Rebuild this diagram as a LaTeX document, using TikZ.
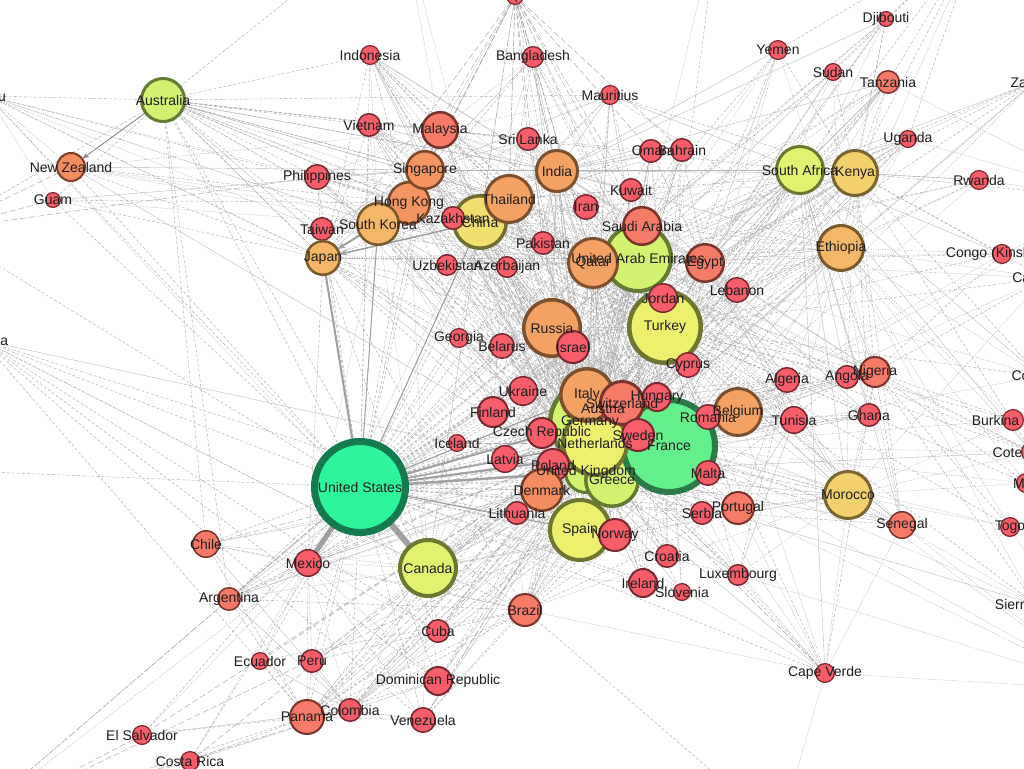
\documentclass[tikz,border=0pt]{standalone}
\usepackage{fontspec}
\setmainfont{Liberation Sans}
\usetikzlibrary{arrows.meta}
\pgfdeclarelayer{back}
\pgfdeclarelayer{edges}
\pgfsetlayers{back,edges,main}
\definecolor{fR}{RGB}{247,94,106}\definecolor{bR}{RGB}{122,40,48}
\definecolor{fS}{RGB}{245,122,104}\definecolor{bS}{RGB}{122,52,44}
\definecolor{fS2}{RGB}{243,140,96}\definecolor{bS2}{RGB}{122,62,40}
\definecolor{fO}{RGB}{244,162,100}\definecolor{bO}{RGB}{125,80,45}
\definecolor{fO2}{RGB}{244,148,96}\definecolor{bO2}{RGB}{125,72,42}
\definecolor{fLO}{RGB}{245,182,104}\definecolor{bLO}{RGB}{122,90,45}
\definecolor{fYO}{RGB}{242,208,108}\definecolor{bYO}{RGB}{122,100,50}
\definecolor{fY}{RGB}{240,222,110}\definecolor{bY}{RGB}{115,110,48}
\definecolor{fY2}{RGB}{236,240,108}\definecolor{bY2}{RGB}{110,118,48}
\definecolor{fYG}{RGB}{226,242,112}\definecolor{bYG}{RGB}{106,120,50}
\definecolor{fLG}{RGB}{210,242,112}\definecolor{bLG}{RGB}{100,122,50}
\definecolor{fG}{RGB}{100,240,140}\definecolor{bG}{RGB}{44,122,72}
\definecolor{fT}{RGB}{46,245,155}\definecolor{bT}{RGB}{22,122,80}
\definecolor{ecol}{RGB}{168,168,168}
\definecolor{hcol}{RGB}{160,160,160}
\definecolor{txt}{RGB}{30,30,30}
\newcommand\cnd[6]{\node[#5, minimum size=#4*2pt-#6, line width=#6] (#1) at (#2,#3) {};}
\begin{document}
\begin{tikzpicture}[x=1pt,y=-1pt,
  nd/.style={circle,inner sep=0pt,outer sep=0pt},
  cR/.style={nd,fill=fR,draw=bR}, cS/.style={nd,fill=fS,draw=bS},
  cS2/.style={nd,fill=fS2,draw=bS2}, cO/.style={nd,fill=fO,draw=bO},
  cO2/.style={nd,fill=fO2,draw=bO2}, cLO/.style={nd,fill=fLO,draw=bLO},
  cYO/.style={nd,fill=fYO,draw=bYO}, cY/.style={nd,fill=fY,draw=bY},
  cY2/.style={nd,fill=fY2,draw=bY2}, cYG/.style={nd,fill=fYG,draw=bYG},
  cLG/.style={nd,fill=fLG,draw=bLG}, cG/.style={nd,fill=fG,draw=bG},
  cT/.style={nd,fill=fT,draw=bT},
  lbl/.style={font=\fontsize{14}{16}\selectfont, text=txt, inner sep=0pt},
  ea/.style={draw=ecol, line width=0.4pt, dash pattern=on 3pt off 2pt},
  eb/.style={draw=ecol, line width=0.35pt, dash pattern=on 1.2pt off 1.2pt},
  ec/.style={draw=ecol!85, line width=0.35pt},
  ed/.style={draw=ecol, line width=0.45pt, dash pattern=on 6pt off 3pt},
  heavy/.style={draw=hcol, line width=#1}]
\begin{pgfonlayer}{back}
\fill[white] (0,0) rectangle (1024,768);
\end{pgfonlayer}
\useasboundingbox (0,0) rectangle (1024,768);
% off-canvas coordinates
\coordinate (oT1) at (400,-90);
\coordinate (oT2) at (720,-90);
\coordinate (oT3) at (980,-70);
\coordinate (oR1) at (1120,200);
\coordinate (oR2) at (1110,690);
\coordinate (oB1) at (780,830);
\coordinate (oBL) at (-40,830);
\coordinate (oL1) at (-60,230);
\coordinate (oL2) at (-60,470);
% nodes
\cnd{npl}{515}{-4}{9}{cR}{1.2pt}
\cnd{idn}{370}{55}{10}{cR}{1.2pt}
\cnd{bgd}{533}{57}{11}{cR}{1.2pt}
\cnd{mus}{610}{95}{10}{cR}{1.2pt}
\cnd{dji}{886}{19}{8}{cR}{1.2pt}
\cnd{yem}{778}{50}{10}{cR}{1.2pt}
\cnd{sdn}{833}{72}{9}{cR}{1.2pt}
\cnd{tza}{888}{82}{12}{cS}{1.5pt}
\cnd{uga}{908}{139}{9}{cR}{1.2pt}
\cnd{rwa}{979}{180}{10}{cR}{1.2pt}
\cnd{zmb}{1034}{82}{8}{cR}{1.2pt}
\cnd{cod}{1002}{254}{10}{cR}{1.2pt}
\cnd{cmr}{1045}{278}{8}{cR}{1.2pt}
\cnd{com}{1040}{376}{8}{cR}{1.2pt}
\cnd{bfa}{1013}{420}{11}{cR}{1.2pt}
\cnd{civ}{1032}{452}{11}{cR}{1.2pt}
\cnd{mli}{1026}{483}{10}{cR}{1.2pt}
\cnd{tgo}{1010}{527}{10}{cR}{1.2pt}
\cnd{sle}{1035}{604}{8}{cR}{1.2pt}
\cnd{pal}{-12}{96}{8}{cR}{1.2pt}
\cnd{jam}{-18}{340}{8}{cR}{1.2pt}
\cnd{aus}{163}{100}{23}{cLG}{3pt}
\cnd{nzl}{71}{167}{15}{cS2}{2pt}
\cnd{gum}{53}{200}{8}{cR}{1.2pt}
\cnd{phl}{317}{177}{13}{cR}{1.5pt}
\cnd{twn}{322}{229}{12}{cR}{1.5pt}
\cnd{jpn}{323}{258}{18}{cLO}{2.5pt}
\cnd{vnm}{369}{125}{12}{cR}{1.5pt}
\cnd{mys}{440}{130}{19}{cS}{2.5pt}
\cnd{hkg}{409}{203}{22}{cO2}{2.5pt}
\cnd{sgp}{425}{170}{20}{cO2}{2.5pt}
\cnd{kor}{378}{224}{22}{cLO}{2.5pt}
\cnd{chn}{480}{222}{28}{cY}{3.5pt}
\cnd{tha}{509}{199}{25}{cO}{3pt}
\cnd{kaz}{453}{218}{12}{cR}{1.5pt}
\cnd{ind}{557}{171}{22}{cO}{3pt}
\cnd{lka}{528}{139}{12}{cR}{1.5pt}
\cnd{omn}{651}{151}{12}{cR}{1.5pt}
\cnd{bhr}{682}{150}{12}{cR}{1.5pt}
\cnd{kwt}{631}{190}{12}{cR}{1.5pt}
\cnd{irn}{586}{207}{13}{cR}{1.5pt}
\cnd{pak}{543}{243}{12}{cR}{1.5pt}
\cnd{uzb}{447}{265}{11}{cR}{1.5pt}
\cnd{aze}{507}{267}{11}{cR}{1.5pt}
\cnd{uae}{638}{258}{35}{cLG}{4pt}
\cnd{sau}{642}{226}{20}{cS}{2.5pt}
\cnd{qat}{593}{263}{26}{cO}{3pt}
\cnd{egy}{705}{263}{20}{cS}{2.5pt}
\cnd{leb}{737}{290}{13}{cR}{1.5pt}
\cnd{tur}{665}{327}{38}{cY2}{4.5pt}
\cnd{jor}{663}{298}{15}{cR}{1.5pt}
\cnd{rus}{552}{328}{30}{cO}{3.5pt}
\cnd{isr}{573}{347}{17}{cR}{2pt}
\cnd{geo}{459}{338}{10}{cR}{1.2pt}
\cnd{blr}{502}{346}{13}{cR}{1.5pt}
\cnd{ukr}{523}{391}{15}{cR}{1.5pt}
\cnd{fin}{493}{412}{16}{cR}{2pt}
\cnd{isl}{457}{443}{9}{cR}{1.2pt}
\cnd{ger}{590}{422}{42}{cLG}{4.5pt}
\cnd{gbr}{586}{472}{22}{cLG}{3pt}
\cnd{grc}{612}{480}{28}{cLG}{3.5pt}
\cnd{fra}{669}{446}{49}{cG}{6pt}
\cnd{ned}{595}{443}{34}{cY2}{4pt}
\cnd{aut}{603}{408}{14}{cS}{2pt}
\cnd{ita}{587}{395}{28}{cO}{3.5pt}
\cnd{swi}{622}{403}{23}{cS}{3pt}
\cnd{hun}{657}{397}{15}{cR}{2pt}
\cnd{cyp}{688}{365}{13}{cR}{1.5pt}
\cnd{swe}{638}{435}{17}{cR}{2pt}
\cnd{bel}{738}{412}{25}{cO}{3pt}
\cnd{rou}{708}{417}{13}{cR}{1.5pt}
\cnd{mlt}{708}{473}{13}{cR}{1.5pt}
\cnd{prt}{738}{508}{17}{cS}{2pt}
\cnd{srb}{702}{513}{12}{cR}{1.5pt}
\cnd{cze}{542}{433}{16}{cR}{2pt}
\cnd{lva}{505}{459}{14}{cR}{1.5pt}
\cnd{pol}{553}{465}{17}{cR}{2pt}
\cnd{den}{542}{490}{22}{cS2}{2.5pt}
\cnd{ltu}{517}{513}{12}{cR}{1.5pt}
\cnd{esp}{580}{530}{32}{cY2}{4pt}
\cnd{nor}{615}{535}{17}{cR}{2pt}
\cnd{hrv}{667}{556}{12}{cR}{1.5pt}
\cnd{irl}{643}{583}{15}{cR}{2pt}
\cnd{svn}{682}{592}{9}{cR}{1.2pt}
\cnd{lux}{738}{575}{11}{cR}{1.5pt}
\cnd{cpv}{825}{673}{10}{cR}{1.2pt}
\cnd{sen}{902}{525}{14}{cS}{1.5pt}
\cnd{mar}{848}{495}{25}{cYO}{3pt}
\cnd{dza}{787}{380}{13}{cR}{1.5pt}
\cnd{tun}{794}{420}{14}{cR}{1.5pt}
\cnd{ago}{847}{377}{12}{cR}{1.5pt}
\cnd{nga}{875}{372}{16}{cS}{2pt}
\cnd{gha}{869}{415}{12}{cR}{1.5pt}
\cnd{rsa}{800}{170}{25}{cYG}{3pt}
\cnd{ken}{855}{173}{24}{cYO}{3pt}
\cnd{eth}{841}{248}{24}{cLO}{3pt}
\cnd{usa}{360}{487}{49}{cT}{7pt}
\cnd{can}{428}{568}{30}{cYG}{4pt}
\cnd{mex}{308}{563}{14}{cR}{1.5pt}
\cnd{chi}{206}{544}{14}{cS}{1.5pt}
\cnd{arg}{229}{599}{12}{cS}{1.5pt}
\cnd{ecu}{260}{661}{9}{cR}{1.2pt}
\cnd{per}{312}{661}{12}{cR}{1.5pt}
\cnd{pan}{307}{717}{18}{cS}{2pt}
\cnd{col}{350}{710}{12}{cR}{1.5pt}
\cnd{slv}{142}{735}{10}{cR}{1.2pt}
\cnd{crc}{190}{761}{10}{cR}{1.2pt}
\cnd{cub}{438}{631}{12}{cR}{1.5pt}
\cnd{dom}{438}{681}{15}{cR}{2pt}
\cnd{ven}{423}{720}{13}{cR}{1.5pt}
\cnd{bra}{525}{610}{17}{cS}{2pt}
% edges
\begin{pgfonlayer}{edges}
\foreach \t in {chn,kor,hkg,twn,phl,aus,ind,isr,rus,swi,swe,bel,irl,den,nor,fin,pol,cze,isl,bra,arg,chi,per,ecu,col,pan,cub,dom,ven,slv,crc,tur,uae,qat,egy,jor,sau,kwt,mar,nga,gha,eth,rsa,sgp,tha,vnm,nzl,gum,lva,ltu,ukr,blr,geo,hun,grc,prt,srb,hrv,lux,sen,cpv,ken,jam,pal,idn,mys,pak,lka,aut,cyp,rou,mlt,svn,oL1,oL2,oBL}
  \draw[ea] (usa) -- (\t);
\foreach \t in {dza,tun,mar,sen,civ,mli,bfa,tgo,cmr,nga,gha,ago,rsa,ken,eth,egy,leb,isr,tur,uae,qat,sau,chn,jpn,kor,ind,tha,sgp,hkg,vnm,can,bra,mex,arg,chi,per,col,pan,cub,dom,ven,mus,cpv,dji,rus,ukr,blr,geo,aze,kaz,uzb,lka,mys,idn,jor,kwt,omn,bhr,irn,pak,cod,rwa,uga,tza,sdn,yem,lux,prt,irl,isl,fin,lva,ltu,cze,pol,den,nor,swe,hun,rou,srb,hrv,svn,mlt,cyp,grc,ita,esp,bel,swi,ned,gbr,ger,zmb,com,sle,oR1,oR2}
  \draw[eb] (fra) -- (\t);
\foreach \t in {dza,tun,mar,sen,nga,gha,ago,rsa,ken,eth,egy,leb,isr,tur,uae,qat,sau,chn,jpn,kor,ind,tha,sgp,hkg,vnm,can,bra,mex,arg,col,pan,cub,dom,mus,cpv,rus,ukr,blr,geo,aze,kaz,uzb,lka,mys,idn,jor,kwt,omn,bhr,irn,pak,tza,lux,prt,irl,isl,fin,lva,ltu,cze,pol,den,nor,swe,hun,rou,srb,hrv,svn,mlt,cyp,grc,ita,esp,bel,swi,ned,gbr,phl,bgd,npl}
  \draw[ea] (ger) -- (\t);
\foreach \t in {nga,gha,ken,rsa,eth,egy,uga,tza,zmb,sle,civ,sen,mar,tun,isr,tur,uae,qat,sau,kwt,omn,bhr,jor,leb,ind,pak,bgd,lka,mys,sgp,hkg,chn,jpn,kor,tha,aus,nzl,can,bra,mex,arg,chi,pan,col,cub,dom,ven,jam,mus,rus,ukr,geo,aze,kaz,uzb,irl,isl,nor,swe,fin,den,pol,cze,lva,ltu,hun,rou,srb,hrv,svn,mlt,cyp,grc,ita,esp,prt,bel,lux,cpv,phl,vnm,idn}
  \draw[ec] (gbr) -- (\t);
\foreach \t in {nga,gha,ken,rsa,eth,egy,tza,uga,mar,tun,dza,isr,tur,uae,qat,sau,kwt,omn,bhr,ind,pak,mys,sgp,hkg,chn,jpn,kor,tha,idn,phl,can,bra,mex,arg,pan,col,cub,dom,ven,per,ecu,chi,crc,slv,rus,ukr,geo,kaz,isl,nor,swe,fin,den,pol,cze,lva,ltu,hun,rou,srb,hrv,mlt,cyp,grc,ita,esp,prt,irl,cpv,sen,ago,lux}
  \draw[ed] (ned) -- (\t);
\foreach \t in {dza,tun,mar,sen,civ,mli,bfa,tgo,cmr,nga,gha,ago,rsa,ken,eth,egy,leb,isr,uae,qat,sau,chn,jpn,kor,ind,tha,sgp,hkg,mys,idn,vnm,can,bra,arg,col,pan,ven,cub,mex,mus,dji,rus,ukr,blr,geo,aze,kaz,uzb,lka,jor,kwt,omn,bhr,irn,pak,bgd,cod,rwa,uga,tza,sdn,yem,zmb,com,sle,lux,prt,irl,isl,fin,lva,ltu,cze,pol,den,nor,swe,hun,rou,srb,hrv,svn,mlt,cyp,grc,ita,esp,bel,swi,aut,cpv,oT2}
  \draw[ea] (tur) -- (\t);
\foreach \t in {dza,tun,mar,sen,civ,nga,gha,ago,rsa,ken,eth,egy,leb,isr,qat,sau,chn,jpn,kor,ind,tha,sgp,hkg,mys,idn,vnm,phl,aus,nzl,can,bra,arg,mex,mus,dji,rus,ukr,blr,geo,aze,kaz,uzb,lka,jor,kwt,omn,bhr,irn,pak,bgd,npl,cod,rwa,uga,tza,sdn,yem,zmb,com,prt,irl,fin,cze,pol,den,nor,swe,hun,rou,srb,hrv,mlt,cyp,grc,ita,esp,bel,swi,aut,twn,cmr,oT2}
  \draw[eb] (uae) -- (\t);
\foreach \t in {dza,tun,mar,sen,civ,nga,gha,ago,rsa,ken,eth,egy,leb,isr,sau,chn,jpn,kor,ind,tha,sgp,hkg,mys,idn,vnm,phl,aus,bra,arg,mus,dji,rus,ukr,geo,aze,kaz,uzb,lka,jor,kwt,omn,bhr,irn,pak,bgd,npl,cod,rwa,uga,tza,sdn,yem,zmb,prt,irl,fin,cze,pol,den,nor,swe,hun,rou,srb,hrv,mlt,cyp,grc,ita,esp,bel,swi,aut,twn}
  \draw[ea] (qat) -- (\t);
\foreach \t in {jpn,kor,hkg,twn,phl,vnm,mys,sgp,idn,tha,ind,lka,bgd,npl,pak,kaz,uzb,aze,irn,aus,nzl,rus,mus,ken,eth,rsa,egy,nga,bra,mex,can,ita,esp,swi,swe,den,fin,cze,pol,hun,grc,bel,isr,tur,sau,kwt,omn,geo,blr,oT1}
  \draw[eb] (chn) -- (\t);
\foreach \t in {jpn,kor,twn,phl,vnm,mys,sgp,idn,tha,ind,lka,bgd,npl,aus,nzl,gum,pal,ita,swi,fin,rus}
  \draw[ea] (hkg) -- (\t);
\foreach \t in {jpn,kor,twn,phl,vnm,mys,idn,tha,ind,lka,bgd,aus,nzl,mus,ita,swi,rsa,gum}
  \draw[ec] (sgp) -- (\t);
\foreach \t in {jpn,kor,twn,phl,vnm,mys,idn,ind,lka,bgd,npl,pak,kaz,aus,mus,sau,omn,kwt,bhr,rus,fin,den,swe,swi,ita,isr,ken,eth}
  \draw[ea] (tha) -- (\t);
\foreach \t in {twn,phl,vnm,mys,idn,ind,uzb,kaz,aus,nzl,gum,pal,rus,ita,esp,cze,fin,can,mex}
  \draw[eb] (kor) -- (\t);
\foreach \t in {twn,phl,vnm,mys,idn,ind,aus,nzl,gum,pal,rus,ita,fin,can,mex,bra}
  \draw[ea] (jpn) -- (\t);
\foreach \t in {idn,vnm,phl,ind,lka,bgd,npl,pak,aus,nzl,sau,kwt,omn,irn,mus,oT1}
  \draw[eb] (mys) -- (\t);
\foreach \t in {lka,bgd,npl,pak,mus,sau,omn,kwt,bhr,irn,rus,ken,eth,tza,rsa,egy,jor,yem,dji,idn,vnm,aus,ita,swi,den,swe,fin,isr}
  \draw[ec] (ind) -- (\t);
\foreach \t in {gum,pal,phl,twn,jpn,kor,hkg,sgp,idn,vnm,tha,ind,rsa,can,chi,arg,oL1,oT1,lka,mus}
  \draw[ea] (aus) -- (\t);
\foreach \t in {egy,jor,leb,kwt,omn,bhr,irn,pak,bgd,lka,idn,phl,eth,ken,sdn,dji,yem,tza,mar,tun,dza,nga}
  \draw[eb] (sau) -- (\t);
\foreach \t in {leb,jor,kwt,omn,bhr,irn,sdn,dji,yem,eth,ken,tza,uga,nga,gha,mar,tun,dza,rsa,rus,ukr,ita,grc,cyp}
  \draw[ec] (egy) -- (\t);
\foreach \t in {ukr,blr,geo,aze,kaz,uzb,isr,cyp,grc,ita,esp,swi,aut,hun,cze,pol,lva,ltu,fin,swe,nor,den,vnm,irn,jor}
  \draw[eb] (rus) -- (\t);
\foreach \t in {cyp,grc,ita,esp,ukr,geo,blr,aze,kaz,cze,pol,hun,rou,lva,ltu,fin,swe,den,eth,ken,rsa}
  \draw[ea] (isr) -- (\t);
\foreach \t in {ken,rsa,tza,uga,rwa,dji,sdn,yem,cod,zmb,nga,gha,ago,civ,tgo,bfa,cmr,mli,sen,sle,mus,com,jpn,leb,jor,ita,bel,swe,bra,can,dza,tun,oT3}
  \draw[eb] (eth) -- (\t);
\foreach \t in {rsa,tza,uga,rwa,dji,sdn,yem,cod,zmb,nga,gha,ago,civ,cmr,sen,mus,com,oT3,oR1}
  \draw[ea] (ken) -- (\t);
\foreach \t in {tza,uga,rwa,zmb,cod,ago,nga,gha,civ,sen,mus,com,bra,arg,cpv,mar}
  \draw[ec] (rsa) -- (\t);
\foreach \t in {tun,dza,sen,civ,mli,bfa,tgo,cmr,nga,gha,ago,cpv,sle,esp,prt,ita,bel,lux,swi,can,bra}
  \draw[eb] (mar) -- (\t);
\foreach \t in {gha,tgo,civ,bfa,mli,sen,sle,cmr,ago,cod,cpv,bel}
  \draw[ea] (nga) -- (\t);
\foreach \t in {prt,lux,sen,bra,bel,ita,esp,oR2,oB1}
  \draw[eb] (cpv) -- (\t);
\foreach \t in {dza,bel,swi,ita,lux,prt}
  \draw[ec] (tun) -- (\t);
\foreach \t in {bel,swi,ita,esp,prt,lux}
  \draw[ea] (dza) -- (\t);
\foreach \t in {col,per,ecu,chi,arg,cub,dom,ven,slv,crc,mex,bra,can,esp,oBL,jam}
  \draw[ea] (pan) -- (\t);
\foreach \t in {cub,dom,col,per,ecu,chi,arg,slv,crc,ven,bra,can,esp,oBL}
  \draw[eb] (mex) -- (\t);
\foreach \t in {arg,chi,per,col,ven,ecu,prt,esp,ita,bel,ago,can,oB1}
  \draw[ea] (bra) -- (\t);
\foreach \t in {per,ecu,chi,arg,cub,dom,ven,slv,crc,esp}
  \draw[ec] (col) -- (\t);
\foreach \t in {cub,dom,jam,pan,col,per,chi,arg,ven,chn,hkg,isl,irl,prt,esp,ita,swi,bel,mar,isr,pol,den,fin,swe}
  \draw[eb] (can) -- (\t);
\foreach \t in {phl,twn,jpn,kor,gum,nzl,can,oL1}
  \draw[eb] (pal) -- (\t);
\foreach \t in {can,cub,dom,ven,esp,oL2}
  \draw[ea] (jam) -- (\t);
\foreach \t in {bgd,ind,chn,tha,sgp,hkg,kor,qat,tur,lka,sau,kwt,omn,bhr,pak,jpn}
  \draw[ed] (npl) -- (\t);
\foreach \t in {dji,yem,tza,uga,rsa,sdn}
  \draw[ea] (oT3) -- (\t);
\foreach \t in {rwa,uga,zmb,cod,tza}
  \draw[eb] (oR1) -- (\t);
\foreach \t in {sen,lux,prt,sle,tgo,mar}
  \draw[eb] (oR2) -- (\t);
\foreach \t in {slv,crc,col,usa,esp}
  \draw[ed] (oBL) -- (\t);
\foreach \t in {nzl,gum,phl}
  \draw[ed] (oL1) -- (\t);
% heavier connectors
\draw[heavy=6pt] (usa) -- (can);
\draw[heavy=5pt] (usa) -- (mex);
\draw[heavy=2pt] (usa) -- (jpn);
\draw[heavy=2.5pt] (usa) -- (gbr);
\draw[heavy=2pt] (usa) -- (ger);
\draw[heavy=2pt] (usa) -- (fra);
\draw[heavy=1.5pt] (usa) -- (ned);
\draw[heavy=1.2pt] (usa) -- (esp);
\draw[heavy=1.2pt] (usa) -- (ita);
\draw[heavy=1pt] (usa) -- (kor);
\draw[heavy=1pt] (usa) -- (chn);
\draw[draw=gray, line width=0.8pt, -{Stealth[length=7pt,width=5pt]}] (aus) -- (nzl);
\draw[heavy=2pt, -{Stealth[length=8pt,width=6pt]}] (kor) -- (jpn);
\draw[heavy=1.5pt, -{Stealth[length=8pt,width=6pt]}] (chn) -- (jpn);
\end{pgfonlayer}
% labels
\node[lbl] at (npl) {Nepal};
\node[lbl] at (idn) {Indonesia};
\node[lbl] at (bgd) {Bangladesh};
\node[lbl] at (mus) {Mauritius};
\node[lbl] at (dji) {Djibouti};
\node[lbl] at (yem) {Yemen};
\node[lbl] at (sdn) {Sudan};
\node[lbl] at (tza) {Tanzania};
\node[lbl] at (uga) {Uganda};
\node[lbl] at (rwa) {Rwanda};
\node[lbl] at (zmb) {Zambia};
\node[lbl] at (cod) {Congo (Kinshasa)};
\node[lbl] at (cmr) {Cameroon};
\node[lbl] at (com) {Comoros};
\node[lbl] at (bfa) {Burkina Faso};
\node[lbl] at (civ) {Cote d'Ivoire};
\node[lbl] at (mli) {Mali};
\node[lbl] at (tgo) {Togo};
\node[lbl] at (sle) {Sierra Leone};
\node[lbl] at (pal) {Palau};
\node[lbl] at (jam) {Jamaica};
\node[lbl] at (aus) {Australia};
\node[lbl] at (nzl) {New Zealand};
\node[lbl] at (gum) {Guam};
\node[lbl] at (phl) {Philippines};
\node[lbl] at (twn) {Taiwan};
\node[lbl] at (jpn) {Japan};
\node[lbl] at (vnm) {Vietnam};
\node[lbl] at (mys) {Malaysia};
\node[lbl] at (hkg) {Hong Kong};
\node[lbl] at (sgp) {Singapore};
\node[lbl] at (kor) {South Korea};
\node[lbl] at (chn) {China};
\node[lbl] at (tha) {Thailand};
\node[lbl] at (kaz) {Kazakhstan};
\node[lbl] at (ind) {India};
\node[lbl] at (lka) {Sri Lanka};
\node[lbl] at (omn) {Oman};
\node[lbl] at (bhr) {Bahrain};
\node[lbl] at (kwt) {Kuwait};
\node[lbl] at (irn) {Iran};
\node[lbl] at (pak) {Pakistan};
\node[lbl] at (uzb) {Uzbekistan};
\node[lbl] at (aze) {Azerbaijan};
\node[lbl] at (uae) {United Arab Emirates};
\node[lbl] at (sau) {Saudi Arabia};
\node[lbl] at (qat) {Qatar};
\node[lbl] at (egy) {Egypt};
\node[lbl] at (leb) {Lebanon};
\node[lbl] at (tur) {Turkey};
\node[lbl] at (jor) {Jordan};
\node[lbl] at (rus) {Russia};
\node[lbl] at (isr) {Israel};
\node[lbl] at (geo) {Georgia};
\node[lbl] at (blr) {Belarus};
\node[lbl] at (ukr) {Ukraine};
\node[lbl] at (fin) {Finland};
\node[lbl] at (isl) {Iceland};
\node[lbl] at (ger) {Germany};
\node[lbl] at (gbr) {United Kingdom};
\node[lbl] at (grc) {Greece};
\node[lbl] at (fra) {France};
\node[lbl] at (ned) {Netherlands};
\node[lbl] at (aut) {Austria};
\node[lbl] at (ita) {Italy};
\node[lbl] at (swi) {Switzerland};
\node[lbl] at (hun) {Hungary};
\node[lbl] at (cyp) {Cyprus};
\node[lbl] at (swe) {Sweden};
\node[lbl] at (bel) {Belgium};
\node[lbl] at (rou) {Romania};
\node[lbl] at (mlt) {Malta};
\node[lbl] at (prt) {Portugal};
\node[lbl] at (srb) {Serbia};
\node[lbl] at (cze) {Czech Republic};
\node[lbl] at (lva) {Latvia};
\node[lbl] at (pol) {Poland};
\node[lbl] at (den) {Denmark};
\node[lbl] at (ltu) {Lithuania};
\node[lbl] at (esp) {Spain};
\node[lbl] at (nor) {Norway};
\node[lbl] at (hrv) {Croatia};
\node[lbl] at (irl) {Ireland};
\node[lbl] at (svn) {Slovenia};
\node[lbl] at (lux) {Luxembourg};
\node[lbl] at (cpv) {Cape Verde};
\node[lbl] at (sen) {Senegal};
\node[lbl] at (mar) {Morocco};
\node[lbl] at (dza) {Algeria};
\node[lbl] at (tun) {Tunisia};
\node[lbl] at (ago) {Angola};
\node[lbl] at (nga) {Nigeria};
\node[lbl] at (gha) {Ghana};
\node[lbl] at (rsa) {South Africa};
\node[lbl] at (ken) {Kenya};
\node[lbl] at (eth) {Ethiopia};
\node[lbl] at (usa) {United States};
\node[lbl] at (can) {Canada};
\node[lbl] at (mex) {Mexico};
\node[lbl] at (chi) {Chile};
\node[lbl] at (arg) {Argentina};
\node[lbl] at (ecu) {Ecuador};
\node[lbl] at (per) {Peru};
\node[lbl] at (pan) {Panama};
\node[lbl] at (col) {Colombia};
\node[lbl] at (slv) {El Salvador};
\node[lbl] at (crc) {Costa Rica};
\node[lbl] at (cub) {Cuba};
\node[lbl] at (dom) {Dominican Republic};
\node[lbl] at (ven) {Venezuela};
\node[lbl] at (bra) {Brazil};
\end{tikzpicture}
\end{document}
